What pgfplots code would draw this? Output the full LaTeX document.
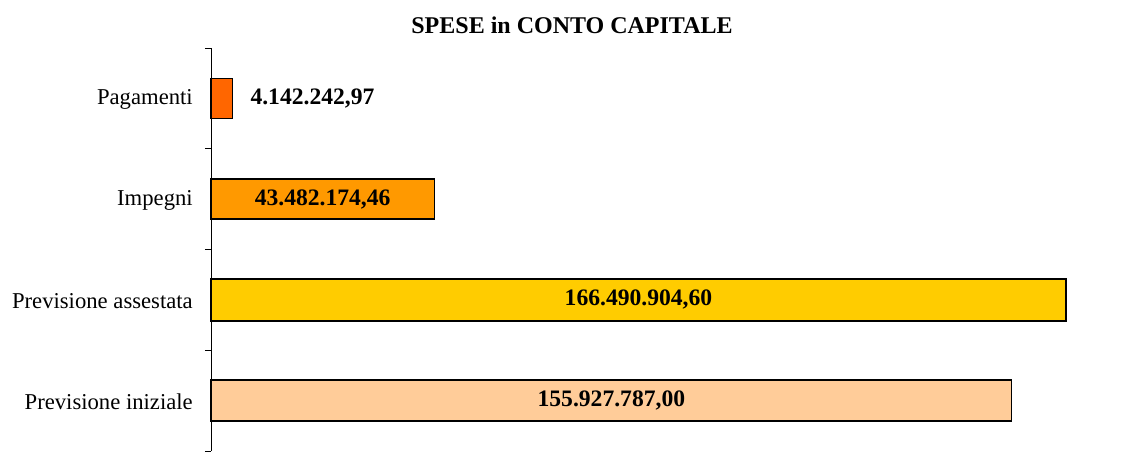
\documentclass[border=0pt]{standalone}
\usepackage{pgfplots}
\pgfplotsset{compat=1.18}
\usepackage{fontspec}
\setmainfont{Liberation Serif}
\definecolor{cPag}{HTML}{FF6600}
\definecolor{cImp}{HTML}{FF9900}
\definecolor{cAss}{HTML}{FFCC00}
\definecolor{cIni}{HTML}{FFCC99}
\begin{document}
\begin{tikzpicture}[x=0.75pt,y=0.75pt]
\path[use as bounding box] (0,0) rectangle (1125,451);
\node[font=\fontsize{18}{20}\selectfont\bfseries] at (572,426) {SPESE in CONTO CAPITALE};
\begin{axis}[
  at={(158.25pt,0pt)}, anchor=south west,
  scale only axis, width=674pt, height=302.25pt,
  xmin=0, xmax=175e6, ymin=-0.5, ymax=3.5,
  axis lines=left, axis line style={-, black, line width=0.6pt},
  hide x axis,
  ytick={0,1,2,3},
  yticklabels={Previsione iniziale, Previsione assestata, Impegni, Pagamenti},
  minor ytick={-0.5,0.5,1.5,2.5,3.5},
  major tick length=0pt, minor tick length=4.5pt,
  tick align=outside,
  ytick style={black, line width=0.6pt},
  yticklabel style={font=\fontsize{17}{19}\selectfont, anchor=east, inner sep=0pt, xshift=-13.5pt, yshift=-1pt},
  clip=false,
]
\addplot[xbar, bar width=30.75pt, bar shift=0pt, fill=cIni, draw=black, line width=1.1pt] coordinates {(155927787,0)};
\addplot[xbar, bar width=31.5pt, bar shift=0pt, fill=cAss, draw=black, line width=1.1pt] coordinates {(166490904.60,1)};
\addplot[xbar, bar width=30pt, bar shift=0pt, fill=cImp, draw=black, line width=1.1pt] coordinates {(43482174.46,2)};
\addplot[xbar, bar width=30pt, bar shift=0pt, fill=cPag, draw=black, line width=1.1pt] coordinates {(4142242.97,3)};
\addplot[draw=none, mark=none, nodes near coords, point meta=explicit symbolic,
  every node near coord/.append style={anchor=center, font=\fontsize{17.7}{19}\selectfont\bfseries, inner sep=0pt}]
  coordinates {(77963893.5,0) [155.927.787,00] (83245452.3,1) [166.490.904,60] (21741087.23,2) [43.482.174,46]};
\addplot[draw=none, mark=none, nodes near coords, point meta=explicit symbolic,
  every node near coord/.append style={anchor=west, xshift=13.5pt, font=\fontsize{17.7}{19}\selectfont\bfseries, inner sep=0pt}]
  coordinates {(4142242.97,3) [4.142.242,97]};
\end{axis}
\end{tikzpicture}
\end{document}
